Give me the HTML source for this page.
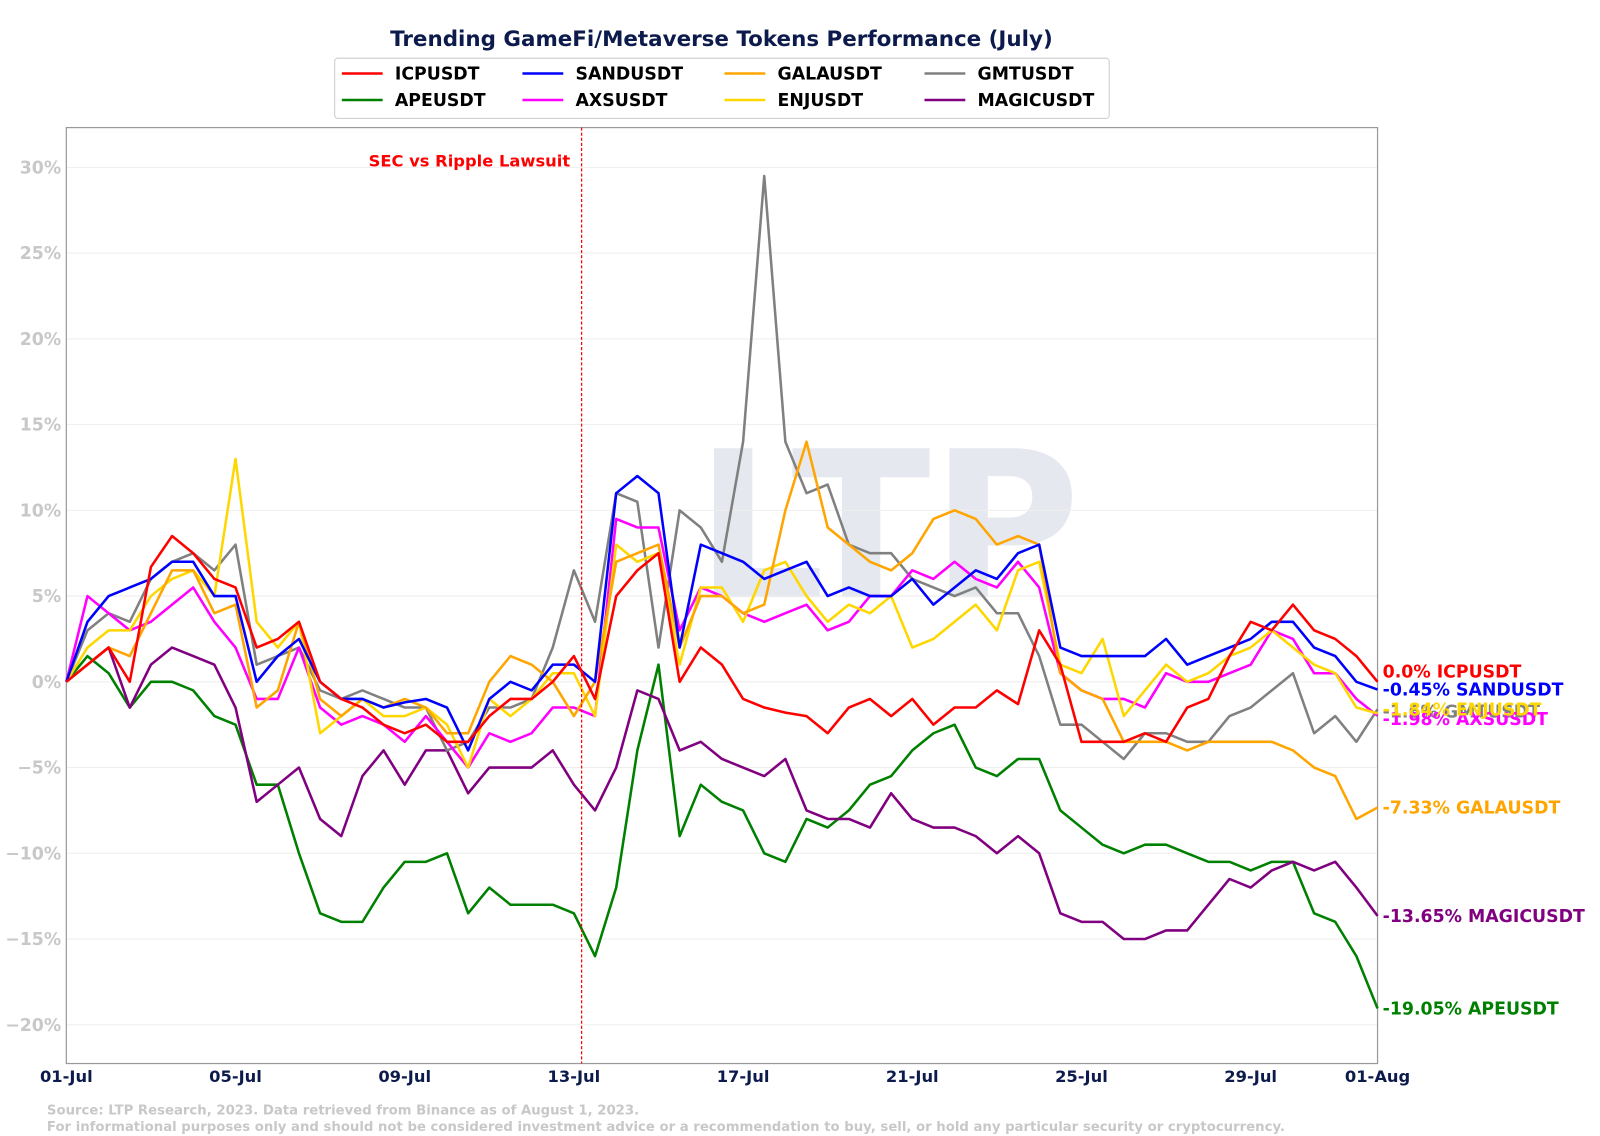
<!DOCTYPE html>
<html><head><meta charset="utf-8"><style>
body{margin:0;background:#fff;font-family:"DejaVu Sans","Liberation Sans",sans-serif}
svg{display:block}
svg text{font-family:"DejaVu Sans","Liberation Sans",sans-serif}
</style></head><body>
<svg id="chart" width="1600" height="1136" viewBox="0 0 1568 1113" preserveAspectRatio="none">
<rect width="1568" height="1113" fill="#fff"/>
<text x="707" y="45" text-anchor="middle" font-size="21" font-weight="bold" fill="#0d1b4c">Trending GameFi/Metaverse Tokens Performance (July)</text>
<text x="870" y="585" text-anchor="middle" font-size="200" font-weight="bold" fill="#e6e8ef">LTP</text>
<g id="grid"></g>
<rect x="65" y="125" width="1285" height="917" fill="none" stroke="#999" stroke-width="1.2"/>
<g id="series"></g>
<g id="axes"></g>
<line x1="570" y1="125" x2="570" y2="1042" stroke="red" stroke-width="1.2" stroke-dasharray="3,2"/>
<text x="460" y="163" text-anchor="middle" font-size="16" font-weight="bold" fill="red">SEC vs Ripple Lawsuit</text>
<g id="legend">
<rect x="328" y="57" width="759" height="59" fill="#fff" stroke="#ccc" rx="3"/>
</g>
<g id="endlabels"></g>
<text x="46" y="1092" font-size="13" font-weight="bold" fill="#c8c8c8">Source: LTP Research, 2023. Data retrieved from Binance as of August 1, 2023.</text>
<text x="46" y="1108" font-size="13" font-weight="bold" fill="#c8c8c8">For informational purposes only and should not be considered investment advice or a recommendation to buy, sell, or hold any particular security or cryptocurrency.</text>
</svg>
<script>
const names=["ICPUSDT","SANDUSDT","GALAUSDT","GMTUSDT","APEUSDT","AXSUSDT","ENJUSDT","MAGICUSDT"];
const icp=[0,1,2,0,6.7,8.5,7.5,6,5.5,2,2.5,3.5,0,-1,-1.5,-2.5,-3,-2.5,-3.5,-3.5,-2,-1,-1,0,1.5,-1,5,6.5,7.5,0,2,1,-1,-1.5,-1.8,-2,-3,-1.5,-1,-2,-1,-2.5,-1.5,-1.5,-0.5,-1.3,3,1,-3.5,-3.5,-3.5,-3,-3.5,-1.5,-1,1.5,3.5,3,4.5,3,2.5,1.5,0];
const sand=[0,3.5,5,5.5,6,7,7,5,5,0,1.5,2.5,0,-1,-1,-1.5,-1.2,-1,-1.5,-4,-1,0,-0.5,1,1,0,11,12,11,2,8,7.5,7,6,6.5,7,5,5.5,5,5,6,4.5,5.5,6.5,6,7.5,8,2,1.5,1.5,1.5,1.5,2.5,1,1.5,2,2.5,3.5,3.5,2,1.5,0,-0.45];
const gala=[0,1,2,1.5,4,6.5,6.5,4,4.5,-1.5,-0.5,3.5,-1,-2,-1,-1.5,-1,-1.5,-3,-3,0,1.5,1,0,-2,0,7,7.5,8,2,5,5,4,4.5,10,14,9,8,7,6.5,7.5,9.5,10,9.5,8,8.5,8,0.5,-0.5,-1,-3.5,-3.5,-3.5,-4,-3.5,-3.5,-3.5,-3.5,-4,-5,-5.5,-8,-7.33];
const gmt=[0,3,4,3.5,6,7,7.5,6.5,8,1,1.5,2,-0.5,-1,-0.5,-1,-1.5,-1.5,-4,-3.5,-1.5,-1.5,-1,2,6.5,3.5,11,10.5,2,10,9,7,14,29.5,14,11,11.5,8,7.5,7.5,6,5.5,5,5.5,4,4,1.5,-2.5,-2.5,-3.5,-4.5,-3,-3,-3.5,-3.5,-2,-1.5,-0.5,0.5,-3,-2,-3.5,-1.6];
const ape=[0,1.5,0.5,-1.5,0,0,-0.5,-2,-2.5,-6,-6,-10,-13.5,-14,-14,-12,-10.5,-10.5,-10,-13.5,-12,-13,-13,-13,-13.5,-16,-12,-4,1,-9,-6,-7,-7.5,-10,-10.5,-8,-8.5,-7.5,-6,-5.5,-4,-3,-2.5,-5,-5.5,-4.5,-4.5,-7.5,-8.5,-9.5,-10,-9.5,-9.5,-10,-10.5,-10.5,-11,-10.5,-10.5,-13.5,-14,-16,-19.05];
const axs=[0,5,4,3,3.5,4.5,5.5,3.5,2,-1,-1,2,-1.5,-2.5,-2,-2.5,-3.5,-2,-3.5,-5,-3,-3.5,-3,-1.5,-1.5,-2,9.5,9,9,3,5.5,5,4,3.5,4,4.5,3,3.5,5,5,6.5,6,7,6,5.5,7,5.5,0.5,-0.5,-1,-1,-1.5,0.5,0,0,0.5,1,3,2.5,0.5,0.5,-1,-1.98];
const enj=[0,2,3,3,5,6,6.5,5,13,3.5,2,3.5,-3,-2,-1,-2,-2,-1.5,-2.5,-5,-1,-2,-1,0.5,0.5,-2,8,7,7.5,1,5.5,5.5,3.5,6.5,7,5,3.5,4.5,4,5,2,2.5,3.5,4.5,3,6.5,7,1,0.5,2.5,-2,-0.5,1,0,0.5,1.5,2,3,2,1,0.5,-1.5,-1.84];
const magic=[0,1,2,-1.5,1,2,1.5,1,-1.5,-7,-6,-5,-8,-9,-5.5,-4,-6,-4,-4,-6.5,-5,-5,-5,-4,-6,-7.5,-5,-0.5,-1,-4,-3.5,-4.5,-5,-5.5,-4.5,-7.5,-8,-8,-8.5,-6.5,-8,-8.5,-8.5,-9,-10,-9,-10,-13.5,-14,-14,-15,-15,-14.5,-14.5,-13,-11.5,-12,-11,-10.5,-11,-10.5,-12,-13.65];
const yTicks=[-20,-15,-10,-5,0,5,10,15,20,25,30];
const xTickLabels=["01-Jul","05-Jul","09-Jul","13-Jul","17-Jul","21-Jul","25-Jul","29-Jul","01-Aug"];
const xTickDays=[0,4,8,12,16,20,24,28,31];
const ns="http://www.w3.org/2000/svg";
const X=d=>65+d*1285/31, Y=v=>668-v*16.8;
function mk(t,a,p){const e=document.createElementNS(ns,t);for(const k in a)e.setAttribute(k,a[k]);p.appendChild(e);return e;}
const grid=document.getElementById('grid'),axes=document.getElementById('axes');
yTicks.forEach(v=>{
 const l=mk('line',{x1:65,x2:1350,y1:Y(v),y2:Y(v),stroke:'#eee'},grid);
 
 
 const t=mk('text',{x:60,y:Y(v)+6,'text-anchor':'end','font-size':17,'font-weight':'bold',fill:'#c8c8c8'},axes);
 t.textContent=(v<0?'\u2212'+(-v):v)+'%';
 
 
});
xTickLabels.forEach((s,i)=>{
 const t=mk('text',{x:X(xTickDays[i]),y:1060,'text-anchor':'middle','font-size':16,'font-weight':'bold',fill:'#0d1b4c'},axes);
 t.textContent=s;
 
 
});
const series=[
 {n:'ICPUSDT',d:icp,c:'#ff0000'},{n:'SANDUSDT',d:sand,c:'#0000ff'},{n:'GALAUSDT',d:gala,c:'#ffa500'},{n:'GMTUSDT',d:gmt,c:'#808080'},
 {n:'APEUSDT',d:ape,c:'#008000'},{n:'AXSUSDT',d:axs,c:'#ff00ff'},{n:'ENJUSDT',d:enj,c:'#ffd700'},{n:'MAGICUSDT',d:magic,c:'#800080'}];
const sg=document.getElementById('series');
const order=[4,7,3,5,6,2,1,0];
order.forEach(i=>{const s=series[i];
 const p=mk('polyline',{points:s.d.map((v,j)=>X(j/2)+','+Y(v)).join(' '),fill:'none',stroke:s.c,'stroke-width':2.5,'stroke-linejoin':'round'},sg);
 
 
});
const lg=document.getElementById('legend');
const lcol=[335,512,710,906];
series.forEach((s,i)=>{const cx=lcol[i%4],cy=i<4?72:98;
 const l=mk('line',{x1:cx,x2:cx+40,y1:cy,y2:cy,stroke:s.c,'stroke-width':2.5},lg);
 
 
 const t=mk('text',{x:cx+52,y:cy+6,'font-size':17,'font-weight':'bold',fill:'#000'},lg);
 t.textContent=s.n;
 
 
});
const eg=document.getElementById('endlabels');
const labOff={ICPUSDT:-10,SANDUSDT:0,ENJUSDT:-4,GMTUSDT:2,AXSUSDT:3};
series.forEach(s=>{const v=s.d[s.d.length-1];
 const t=mk('text',{x:1355,y:Y(v)+6+(labOff[s.n]||0),'font-size':17,'font-weight':'bold',fill:s.c},eg);
 t.textContent=(v===0?'0.0':v)+'% '+s.n;
 
 
});
</script>
</body></html>
